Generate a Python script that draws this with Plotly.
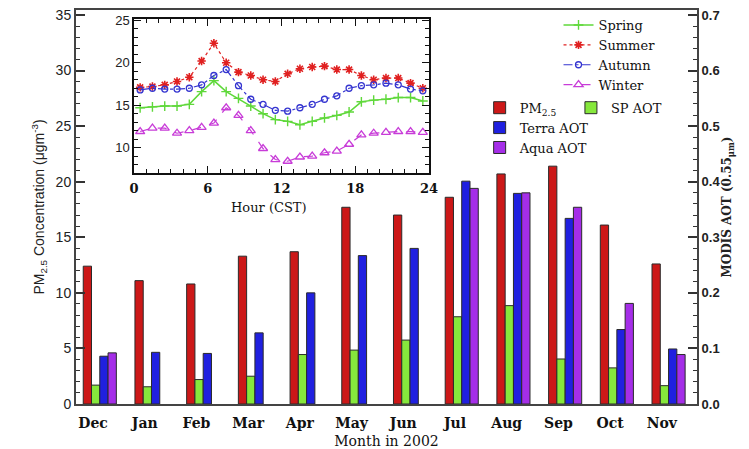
import plotly.graph_objects as go

# ---------------- data ----------------
months = ["Dec", "Jan", "Feb", "Mar", "Apr", "May", "Jun", "Jul", "Aug", "Sep", "Oct", "Nov"]
pm25 = [12.4, 11.1, 10.8, 13.3, 13.7, 17.7, 17.0, 18.6, 20.7, 21.4, 16.1, 12.6]
sp_aot = [0.034, 0.031, 0.044, 0.050, 0.089, 0.097, 0.115, 0.157, 0.177, 0.081, 0.065, 0.033]
terra_aot = [0.086, 0.093, 0.091, 0.128, 0.200, 0.267, 0.280, 0.401, 0.379, 0.334, 0.134, 0.099]
aqua_aot = [0.092, None, None, None, None, None, None, 0.388, 0.380, 0.354, 0.181, 0.089]

hours = [0.5, 1.5, 2.5, 3.5, 4.5, 5.5, 6.5, 7.5, 8.5, 9.5, 10.5, 11.5,
         12.5, 13.5, 14.5, 15.5, 16.5, 17.5, 18.5, 19.5, 20.5, 21.5, 22.5, 23.5]
spring = [14.7, 14.8, 14.9, 14.9, 15.1, 16.6, 17.9, 16.6, 15.8, 14.9, 14.0, 13.3,
          13.1, 12.7, 13.1, 13.5, 13.8, 14.2, 15.4, 15.6, 15.7, 15.9, 15.9, 15.5]
summer = [17.1, 17.2, 17.4, 17.8, 18.3, 20.2, 22.3, 20.0, 18.9, 18.5, 18.0, 17.8,
          18.7, 19.3, 19.5, 19.6, 19.2, 19.2, 18.5, 18.0, 18.2, 18.2, 17.6, 17.0]
autumn = [16.8, 17.0, 16.9, 16.9, 17.0, 17.4, 18.5, 19.2, 17.3, 15.7, 15.1, 14.4,
          14.3, 14.7, 15.1, 15.7, 16.1, 17.0, 17.3, 17.4, 17.6, 17.4, 16.9, 16.7]
winter = [11.9, 12.3, 12.3, 11.7, 12.0, 12.4, 12.9, 14.7, 13.8, 12.0, 9.9, 8.6,
          8.4, 8.9, 9.0, 9.4, 9.6, 10.4, 11.5, 11.7, 11.8, 11.9, 11.9, 11.8]

# ---------------- styles ----------------
SERIF = "DejaVu Serif"
SANS = "Liberation Sans"
BAR_W = 0.16
edge = dict(color="#2a2a2a", width=1)

fig = go.Figure()

# bars
fig.add_trace(go.Bar(x=months, y=pm25, name="PM<sub>2.5</sub>", width=BAR_W, offset=-0.19,
                     marker=dict(color="#cc1818", line=edge), legend="legend2",
                     xaxis="x", yaxis="y"))
fig.add_trace(go.Bar(x=months, y=sp_aot, name="SP AOT", width=BAR_W, offset=-0.03,
                     marker=dict(color="#86e83c", line=edge), legend="legend3",
                     xaxis="x", yaxis="y2"))
fig.add_trace(go.Bar(x=months, y=terra_aot, name="Terra AOT", width=BAR_W, offset=0.13,
                     marker=dict(color="#2020e0", line=edge), legend="legend2",
                     xaxis="x", yaxis="y2"))
fig.add_trace(go.Bar(x=months, y=aqua_aot, name="Aqua AOT", width=BAR_W, offset=0.29,
                     marker=dict(color="#a52ee8", line=edge), legend="legend2",
                     xaxis="x", yaxis="y2"))

# inset lines
fig.add_trace(go.Scatter(x=hours, y=spring, name="Spring", mode="lines+markers",
                         line=dict(color="#5fd83a", width=1.5, dash="solid"),
                         marker=dict(symbol="cross-thin-open", size=7,
                                     line=dict(color="#5fd83a", width=1.4)),
                         xaxis="x2", yaxis="y3", legend="legend"))
fig.add_trace(go.Scatter(x=hours, y=summer, name="Summer", mode="lines+markers",
                         line=dict(color="#e02020", width=1.2, dash="dot"),
                         marker=dict(symbol="asterisk-open", size=7,
                                     line=dict(color="#e02020", width=1.6)),
                         xaxis="x2", yaxis="y3", legend="legend"))
fig.add_trace(go.Scatter(x=hours, y=autumn, name="Autumn", mode="lines+markers",
                         line=dict(color="#3535d0", width=1.2, dash="dashdot"),
                         marker=dict(symbol="circle-open", size=6,
                                     line=dict(color="#3535d0", width=1.3)),
                         xaxis="x2", yaxis="y3", legend="legend"))
fig.add_trace(go.Scatter(x=hours, y=winter, name="Winter", mode="lines+markers",
                         line=dict(color="#c83cd8", width=1.2, dash="dash"),
                         marker=dict(symbol="triangle-up-open", size=8,
                                     line=dict(color="#c83cd8", width=1.3)),
                         xaxis="x2", yaxis="y3", legend="legend"))

legend_font = dict(family=SERIF, size=13, color="#111")

fig.update_layout(
    template="none",
    width=741, height=441, autosize=False,
    margin=dict(l=68, r=52, t=2, b=45, pad=0),
    paper_bgcolor="white", plot_bgcolor="white",
    barmode="overlay",
    showlegend=True,
    xaxis=dict(type="category", range=[-0.33, 11.68], domain=[0, 1], automargin=False,
               showline=True, linecolor="#444", linewidth=2, mirror=True,
               ticks="", showgrid=False, zeroline=False, ticklabelstandoff=5,
               tickfont=dict(family=SERIF, size=14, color="#111", weight="bold"),
               title=dict(text="Month in 2002", font=dict(family=SERIF, size=14, color="#111"),
                          standoff=6)),
    yaxis=dict(range=[0, 35.45], dtick=5, tick0=0, domain=[0, 1], automargin=False,
               showline=True, linecolor="#444", linewidth=2, mirror=False,
               ticks="inside", ticklen=9, tickwidth=1.5, tickcolor="#333",
               ticklabeloverflow="allow",
               minor=dict(dtick=1, ticks="inside", ticklen=4, tickwidth=1, tickcolor="#333",
                          showgrid=False),
               showgrid=False, zeroline=False,
               tickfont=dict(family=SANS, size=14, color="#222"),
               title=dict(text="PM<sub>2.5</sub> Concentration (\u03bcgm<sup>-3</sup>)",
                          font=dict(family=SANS, size=14, color="#222"), standoff=8)),
    yaxis2=dict(range=[0, 0.709], dtick=0.1, tick0=0, tickformat=".1f", automargin=False,
                overlaying="y", side="right", anchor="x",
                showline=True, linecolor="#444", linewidth=2,
                ticks="inside", ticklen=9, tickwidth=1.5, tickcolor="#333",
                ticklabeloverflow="allow",
                minor=dict(dtick=0.02, ticks="inside", ticklen=4, tickwidth=1, tickcolor="#333",
                           showgrid=False),
                showgrid=False, zeroline=False,
                tickfont=dict(family=SANS, size=13, color="#222", weight="bold"),
                title=dict(text="MODIS AOT (0.55<sub>\u03bcm</sub>)",
                           font=dict(family=SERIF, size=12, color="#222", weight="bold"),
                           standoff=2)),
    xaxis2=dict(domain=[0.0934, 0.5684], anchor="y3", range=[0, 24], automargin=False,
                tickvals=[0, 6, 12, 18, 24],
                showline=True, linecolor="#111", linewidth=1.5, mirror="allticks",
                ticks="inside", ticklen=7, tickwidth=1.2, tickcolor="#111",
                minor=dict(dtick=1, ticks="inside", ticklen=4, tickwidth=1, tickcolor="#111",
                           showgrid=False),
                showgrid=False, zeroline=False, ticklabelstandoff=3,
                tickfont=dict(family=SERIF, size=13, color="#111", weight="bold")),
    yaxis3=dict(domain=[0.586, 0.977], anchor="x2", range=[7, 25.15], dtick=5, tick0=0,
                automargin=False,
                showline=True, linecolor="#111", linewidth=1.5, mirror="allticks",
                ticks="inside", ticklen=7, tickwidth=1.2, tickcolor="#111",
                minor=dict(dtick=1, ticks="inside", ticklen=4, tickwidth=1, tickcolor="#111",
                           showgrid=False),
                showgrid=False, zeroline=False,
                tickfont=dict(family=SANS, size=13, color="#222")),
    legend=dict(x=0.777, y=1.0, xanchor="left", yanchor="top",
                bgcolor="rgba(0,0,0,0)", font=legend_font, tracegroupgap=0),
    legend2=dict(x=0.65, y=0.79, xanchor="left", yanchor="top",
                 bgcolor="rgba(0,0,0,0)", font=legend_font, tracegroupgap=0),
    legend3=dict(x=0.797, y=0.79, xanchor="left", yanchor="top",
                 bgcolor="rgba(0,0,0,0)", font=legend_font, tracegroupgap=0),
    annotations=[dict(text="Hour (CST)", xref="paper", yref="paper",
                      x=0.311, y=0.50, xanchor="center", yanchor="middle",
                      showarrow=False, font=dict(family=SERIF, size=13, color="#111"))],
)

fig.write_html("out.html")
